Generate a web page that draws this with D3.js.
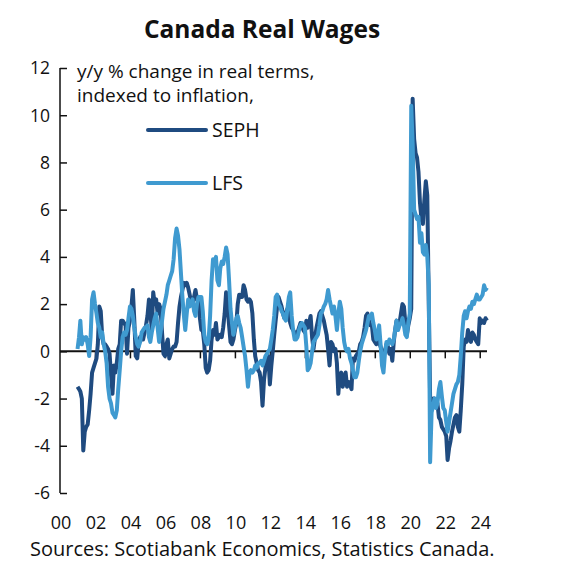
<!DOCTYPE html>
<html><head><meta charset="utf-8">
<script src="https://cdn.jsdelivr.net/npm/d3@7"></script>
<style>
body{margin:0;background:#fff}
svg{display:block}
text{font-family:"Open Sans","Noto Sans",sans-serif;fill:#111}
</style>
</head><body>
<svg id="chart" width="565" height="584"></svg>
<script>
const titleText = "Canada Real Wages";
const noteLines = ["y/y % change in real terms,", "indexed to inflation,"];
const sourceText = "Sources: Scotiabank Economics, Statistics Canada.";
const seriesNames = ["SEPH", "LFS"];
const seriesColors = ["#1f4b80", "#3f9ad0"];
const yTicks = [-6, -4, -2, 0, 2, 4, 6, 8, 10, 12];
const xTickYears = [2000, 2002, 2004, 2006, 2008, 2010, 2012, 2014, 2016, 2018, 2020, 2022, 2024];
const xTickLabels = ["00","02","04","06","08","10","12","14","16","18","20","22","24"];
const firstMonth = "2001-01";   // monthly data from here
const axisStart = "2000-01";
const axisEnd = "2024-06";

const sephValues = [
 -1.5,-1.6,-1.7,-2.0,-4.2,-3.4,-3.2,-3.1,-2.5,-1.8,-0.9,-0.7,
 -0.5,-0.3,0.3,1.9,1.7,0.6,0.3,0.3,0.2,0.1,-0.1,-1.0,
 -1.8,-0.6,-0.9,-0.5,0.1,0.3,1.3,1.3,1.2,1.1,-0.1,1.0,
 1.3,1.9,2.6,1.3,-0.2,-0.3,0.4,0.6,0.5,0.5,0.8,1.1,
 1.5,2.2,1.7,0.9,2.5,2.0,2.2,1.6,2.0,1.8,0.8,-0.1,
 -0.2,0.3,0.5,-0.3,-0.1,0.1,0.2,0.2,0.4,1.2,1.9,2.3,
 2.6,2.9,2.8,2.9,2.7,2.4,2.1,2.0,2.3,2.6,2.2,2.2,
 1.4,0.9,0.9,0.3,-0.7,-0.9,-0.8,-0.4,0.5,0.9,0.7,1.2,
 0.5,0.6,0.7,0.6,1.0,1.6,2.5,1.9,1.1,0.4,0.3,0.5,
 0.9,1.2,2.0,2.4,2.3,2.3,2.8,2.6,2.2,2.1,2.2,2.1,
 1.6,0.5,-0.2,-0.5,-0.8,-0.9,-1.3,-2.3,-1.2,-0.7,-0.4,-0.2,
 -1.4,-0.6,0.0,0.7,1.3,1.9,2.3,2.1,1.9,1.6,1.4,1.6,
 1.8,1.5,1.2,1.0,0.9,0.8,0.7,0.8,1.0,1.2,1.1,0.9,
 0.8,1.3,1.0,1.2,1.5,0.6,0.1,0.6,1.0,1.3,1.6,1.7,
 1.5,1.3,1.0,0.7,0.1,-0.6,0.4,0.3,0.0,0.1,-0.5,-1.8,
 -1.0,-0.9,-1.5,-1.2,-0.9,-1.5,-1.3,-1.4,-1.6,-0.3,-0.4,-0.2,
 -0.1,0.0,0.3,0.4,0.6,1.0,1.5,1.6,1.3,1.1,1.1,0.5,
 0.4,0.3,0.5,0.4,0.2,0.0,-0.1,0.0,0.3,0.2,-0.1,0.1,
 -0.4,0.4,0.9,1.3,1.1,1.2,1.6,2.0,1.9,1.2,0.7,1.1,
 1.4,1.8,10.7,9.0,8.4,8.2,7.6,6.3,5.6,5.4,6.4,7.2,
 6.6,2.0,-2.0,-2.3,-2.0,-2.0,-2.3,-2.2,-2.8,-2.9,-3.2,-3.3,
 -3.4,-3.6,-4.6,-4.1,-3.8,-3.4,-3.1,-2.8,-2.7,-3.2,-3.4,-2.5,
 -1.4,0.2,0.5,0.4,0.9,0.6,0.4,0.8,0.7,0.5,0.4,0.3,
 1.4,1.2,1.3,1.2,1.4,1.3
];
const lfsValues = [
 0.1,0.6,1.3,0.3,0.6,0.5,0.6,0.3,-0.2,0.6,2.2,2.5,
 2.0,1.6,1.2,1.0,0.6,0.8,0.3,0.0,-0.5,-1.5,-2.0,-2.2,
 -2.6,-2.7,-2.8,-2.5,-1.6,-0.8,0.0,0.6,0.8,0.7,0.9,1.4,
 1.9,1.8,1.5,1.0,0.6,0.3,0.2,0.4,0.8,0.9,1.0,1.0,
 1.1,0.6,0.4,0.8,1.1,1.4,1.6,1.0,0.4,0.8,1.3,1.8,
 2.1,2.4,2.8,3.0,3.2,3.4,3.9,4.8,5.2,4.9,4.3,3.3,
 2.3,1.5,0.9,1.6,2.2,1.9,2.0,2.2,1.7,1.5,2.0,2.3,
 2.3,2.3,1.7,0.7,0.4,0.3,0.5,1.5,3.0,3.9,3.7,4.0,
 3.0,2.8,3.5,3.8,3.7,4.0,4.4,4.1,3.0,1.8,1.2,0.7,
 1.0,1.4,1.5,1.2,1.0,0.6,0.2,-0.2,-0.8,-1.5,-0.9,-0.8,
 -0.9,-0.8,-0.6,-0.7,-0.5,-0.5,-0.4,-0.6,-0.4,-0.2,-0.1,0.0,
 0.1,0.5,0.9,1.5,2.3,2.4,2.0,1.9,1.7,1.6,1.4,1.3,
 1.8,2.3,2.5,1.5,0.9,0.5,0.5,0.6,0.9,1.1,1.2,1.1,
 1.0,0.2,-0.8,-0.7,-0.5,0.0,0.4,0.5,0.6,0.7,1.1,1.6,
 1.7,1.9,2.0,2.2,2.6,2.2,1.9,1.6,1.9,1.5,0.9,1.6,
 2.1,1.8,1.0,0.4,0.1,0.0,0.1,-0.3,-0.5,-0.8,-1.1,-1.1,
 -0.9,-0.4,0.0,0.3,0.5,0.7,0.9,1.2,1.5,1.4,1.6,1.2,
 0.9,0.5,0.6,1.1,0.3,-0.6,-0.9,-0.1,0.4,0.3,0.5,0.4,
 0.3,0.5,0.9,1.3,0.9,1.1,1.2,1.4,1.1,0.7,0.6,1.2,
 1.6,10.4,8.8,6.0,5.8,5.6,5.7,4.6,5.0,4.2,4.1,4.5,
 4.0,2.8,-4.7,-2.6,-2.3,-2.0,-2.4,-2.2,-1.6,-1.3,-1.9,-2.4,
 -2.5,-3.0,-3.4,-3.0,-2.6,-2.2,-1.8,-1.6,-1.4,-1.3,-1.0,-0.2,
 0.8,1.5,1.7,1.4,1.7,1.9,1.8,2.1,2.0,2.2,2.4,2.2,
 2.2,2.3,2.4,2.8,2.6,2.7
];

const parseMonth = d3.timeParse("%Y-%m");
const start = parseMonth(firstMonth);
const toSeries = vals => vals.map((v, i) => ({date: d3.timeMonth.offset(start, i), value: v}));
const series = [toSeries(sephValues), toSeries(lfsValues)];

const svg = d3.select("#chart");
const x = d3.scaleTime().domain([parseMonth(axisStart), parseMonth(axisEnd)]).range([60, 487]);
const y = d3.scaleLinear().domain([-6, 12]).range([493, 68]);

// title
svg.append("text").attr("x", 262).attr("y", 38).attr("text-anchor", "middle")
  .style("font-size", "24.5px").style("font-weight", "700").text(titleText);

// y axis
const yAxis = d3.axisRight(y).tickValues(yTicks).tickSize(7).tickFormat("");
const gy = svg.append("g").attr("transform", "translate(60,0)").call(yAxis);
gy.select(".domain").attr("stroke", "#111").attr("stroke-width", 1.5).attr("d", `M0,${y(12)}V${y(-6)}`);
gy.selectAll(".tick line").attr("stroke", "#111").attr("stroke-width", 1.5);
svg.append("g").selectAll("text").data(yTicks).join("text")
  .attr("x", 50).attr("y", d => y(d)).attr("dy", "0.36em").attr("text-anchor", "end")
  .style("font-size", "17.5px").text(d => d);

// x axis at zero
const xAxis = d3.axisBottom(x).tickValues(xTickYears.slice(1).map(yr => new Date(yr, 0, 1))).tickSize(7).tickFormat("");
const gx = svg.append("g").attr("transform", `translate(0,${y(0)})`).call(xAxis);
gx.select(".domain").attr("stroke", "#111").attr("stroke-width", 2).attr("d", `M${x.range()[0]},0H${x.range()[1]}`);
gx.selectAll(".tick line").attr("stroke", "#111").attr("stroke-width", 1.5);

// x labels
svg.append("g").selectAll("text").data(xTickYears).join("text")
  .attr("x", (d) => x(new Date(d, 0, 1)) + 1).attr("y", 529).attr("text-anchor", "middle")
  .style("font-size", "18px").text((d, i) => xTickLabels[i]);

// lines
const line = d3.line().x(d => x(d.date)).y(d => y(d.value));
series.forEach((s, i) => {
  svg.append("path").datum(s).attr("fill", "none").attr("stroke", seriesColors[i])
    .attr("stroke-width", 4).attr("stroke-linejoin", "round").attr("d", line);
});

// note
svg.append("g").selectAll("text").data(noteLines).join("text")
  .attr("x", 77).attr("y", (d, i) => 78 + i * 24).style("font-size", "19px").text(d => d);

// legend
const legY = [130, 183];
seriesNames.forEach((n, i) => {
  svg.append("line").attr("x1", 148).attr("x2", 206).attr("y1", legY[i]).attr("y2", legY[i])
    .attr("stroke", seriesColors[i]).attr("stroke-width", 4).attr("stroke-linecap", "round");
  svg.append("text").attr("x", 212).attr("y", legY[i]).attr("dy", "0.36em")
    .style("font-size", "19.5px").text(n);
});

// source
svg.append("text").attr("x", 30).attr("y", 556).style("font-size", "20px").text(sourceText);
</script>
</body></html>
